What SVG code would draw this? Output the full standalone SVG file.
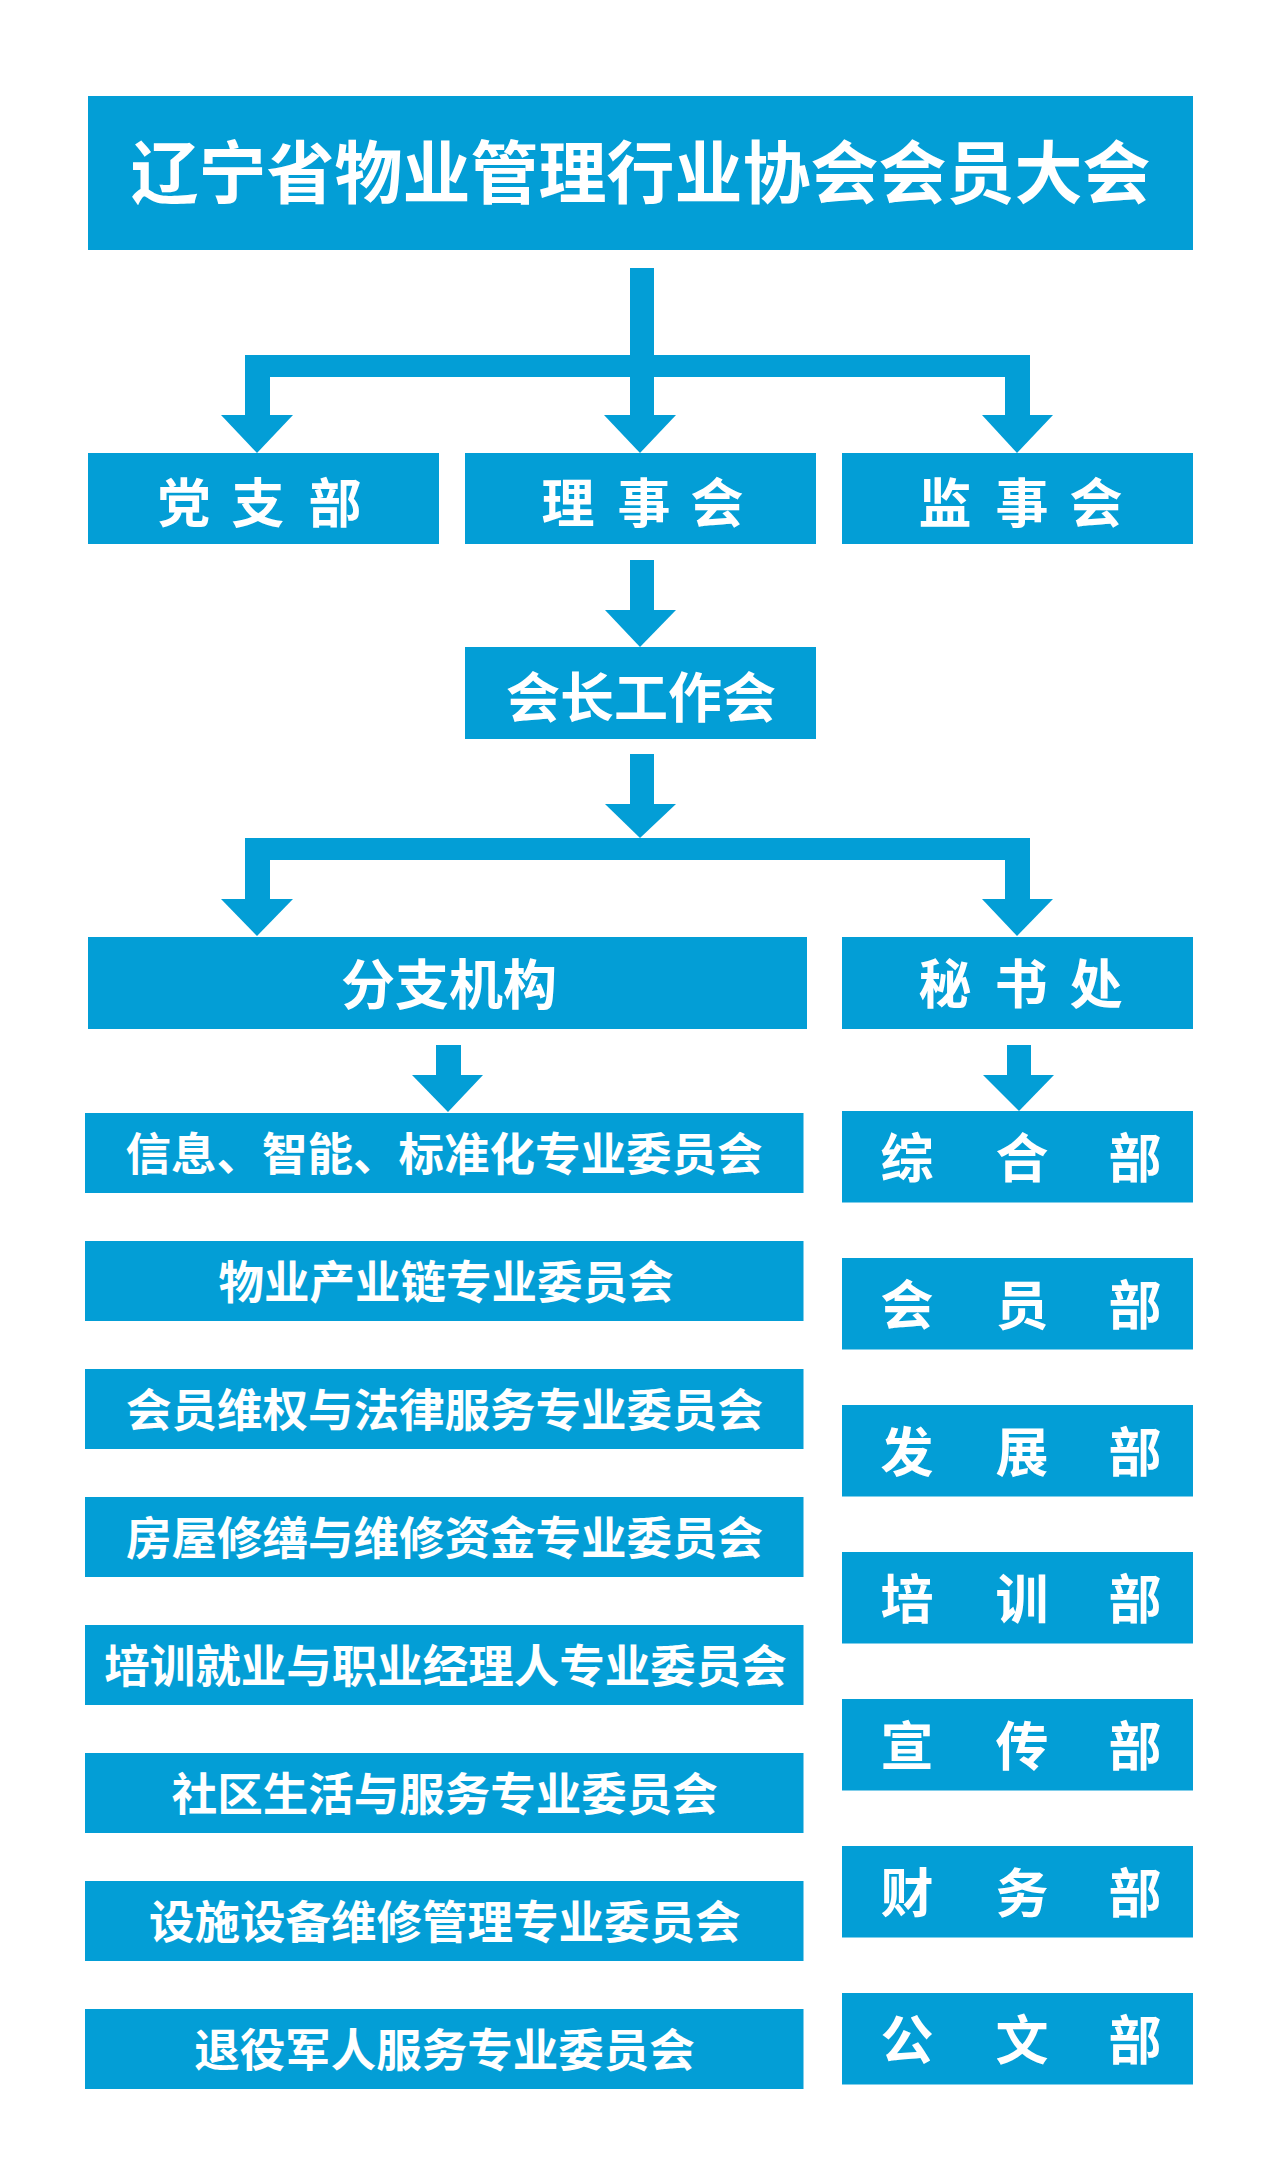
<svg xmlns="http://www.w3.org/2000/svg" width="1272" height="2180" viewBox="0 0 1272 2180">
<style>
.box{fill:#039ED6}
.c{fill:#039ED6}
text{fill:#FFFFFF;font-family:"Noto Sans CJK SC","Noto Sans CJK TC",sans-serif;font-weight:700;text-anchor:middle;dominant-baseline:central}
.t1{font-size:68px}
.t2{font-size:53px}
.t3{font-size:54px}
.t4{font-size:45.5px}
</style>
<rect width="1272" height="2180" fill="#FFFFFF"/>
<g id="connectors">
  <rect class="c" x="630" y="268" width="24" height="148"/>
  <polygon class="c" points="604,415 676,415 640,453"/>
  <rect class="c" x="245" y="355" width="785" height="22"/>
  <rect class="c" x="245" y="355" width="25" height="61"/>
  <polygon class="c" points="221,415 293,415 257,453"/>
  <rect class="c" x="1005" y="355" width="25" height="61"/>
  <polygon class="c" points="982,415 1053,415 1017,453"/>
  <rect class="c" x="630" y="560" width="24" height="51"/>
  <polygon class="c" points="605,610 676,610 640,647"/>
  <rect class="c" x="630" y="754" width="24" height="51"/>
  <polygon class="c" points="605,804 676,804 640,838"/>
  <rect class="c" x="245" y="838" width="785" height="22"/>
  <rect class="c" x="245" y="838" width="25" height="62"/>
  <polygon class="c" points="221,899 293,899 257,936"/>
  <rect class="c" x="1005" y="838" width="25" height="62"/>
  <polygon class="c" points="982,899 1053,899 1017,936"/>
  <rect class="c" x="436" y="1045" width="25" height="31"/>
  <polygon class="c" points="412,1075 483,1075 448,1112"/>
  <rect class="c" x="1007" y="1045" width="24" height="31"/>
  <polygon class="c" points="983,1075 1054,1075 1019,1111"/>
</g>
<g id="n-assembly"><rect class="box" x="88" y="96" width="1105" height="154"/><text class="t1" x="640.5" y="168">辽宁省物业管理行业协会会员大会</text></g>
<g id="n-party"><rect class="box" x="88" y="453" width="351" height="91"/><text class="t2" x="184 258 335" y="500">党支部</text></g>
<g id="n-council"><rect class="box" x="465" y="453" width="351" height="91"/><text class="t2" x="568 644 717" y="500">理事会</text></g>
<g id="n-supervisory"><rect class="box" x="842" y="453" width="351" height="91"/><text class="t2" x="945 1022 1096" y="500">监事会</text></g>
<g id="n-president"><rect class="box" x="465" y="647" width="351" height="92"/><text class="t3" x="641" y="694">会长工作会</text></g>
<g id="n-branches"><rect class="box" x="88" y="937" width="719" height="92"/><text class="t3" x="449" y="981">分支机构</text></g>
<g id="n-secretariat"><rect class="box" x="842" y="937" width="351" height="92"/><text class="t2" x="945 1021 1096" y="981">秘书处</text></g>
<g id="n-c1"><rect class="box" x="85" y="1113" width="718.5" height="80"/><text class="t4" x="444" y="1151">信息、智能、标准化专业委员会</text></g>
<g id="n-c2"><rect class="box" x="85" y="1241" width="718.5" height="80"/><text class="t4" x="446" y="1279">物业产业链专业委员会</text></g>
<g id="n-c3"><rect class="box" x="85" y="1369" width="718.5" height="80"/><text class="t4" x="444.5" y="1407">会员维权与法律服务专业委员会</text></g>
<g id="n-c4"><rect class="box" x="85" y="1497" width="718.5" height="80"/><text class="t4" x="444.5" y="1535">房屋修缮与维修资金专业委员会</text></g>
<g id="n-c5"><rect class="box" x="85" y="1625" width="718.5" height="80"/><text class="t4" x="445.5" y="1663">培训就业与职业经理人专业委员会</text></g>
<g id="n-c6"><rect class="box" x="85" y="1753" width="718.5" height="80"/><text class="t4" x="444.7" y="1791">社区生活与服务专业委员会</text></g>
<g id="n-c7"><rect class="box" x="85" y="1881" width="718.5" height="80"/><text class="t4" x="444.7" y="1919">设施设备维修管理专业委员会</text></g>
<g id="n-c8"><rect class="box" x="85" y="2009" width="718.5" height="80"/><text class="t4" x="444.5" y="2047">退役军人服务专业委员会</text></g>
<g id="n-d1"><rect class="box" x="842" y="1111" width="351" height="91.5"/><text class="t2" x="907 1022 1135" y="1155">综合部</text></g>
<g id="n-d2"><rect class="box" x="842" y="1258" width="351" height="91.5"/><text class="t2" x="907 1022 1135" y="1302">会员部</text></g>
<g id="n-d3"><rect class="box" x="842" y="1405" width="351" height="91.5"/><text class="t2" x="907 1022 1135" y="1449">发展部</text></g>
<g id="n-d4"><rect class="box" x="842" y="1552" width="351" height="91.5"/><text class="t2" x="907 1022 1135" y="1596">培训部</text></g>
<g id="n-d5"><rect class="box" x="842" y="1699" width="351" height="91.5"/><text class="t2" x="907 1022 1135" y="1743">宣传部</text></g>
<g id="n-d6"><rect class="box" x="842" y="1846" width="351" height="91.5"/><text class="t2" x="907 1022 1135" y="1890">财务部</text></g>
<g id="n-d7"><rect class="box" x="842" y="1993" width="351" height="91.5"/><text class="t2" x="907 1022 1135" y="2037">公文部</text></g>
</svg>
